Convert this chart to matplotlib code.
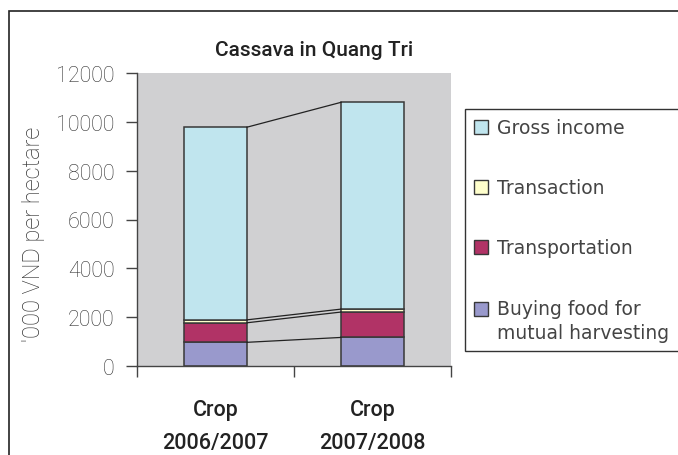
import matplotlib
matplotlib.use("Agg")
import matplotlib.pyplot as plt
import numpy as np
from matplotlib.patches import Rectangle, Patch
from matplotlib.legend_handler import HandlerPatch

# data ('000 VND per hectare)
crops = ["Crop\n2006/2007", "Crop\n2007/2008"]
buying_food = [970, 1170]
transportation = [800, 1040]
transaction = [120, 120]
gross_income = [7890, 8470]

series = [
    ("Buying food for\nmutual harvesting", buying_food, "#9999cc"),
    ("Transportation", transportation, "#b13366"),
    ("Transaction", transaction, "#ffffcc"),
    ("Gross income", gross_income, "#c0e5ee"),
]

plt.rcParams["font.family"] = ["DejaVu Sans"]
narrow = ["Roboto", "DejaVu Sans"]

fig = plt.figure(figsize=(6.78, 4.56), dpi=100)
ax = fig.add_axes([137 / 678, 1 - 367 / 456, 314 / 678, 293 / 456])
ax.set_facecolor("#d0d0d2")

x = np.arange(len(crops))
width = 0.4
bottom = np.zeros(len(crops))
for label, vals, color in series:
    vals = np.array(vals, dtype=float)
    ax.bar(x, vals, width, bottom=bottom, color=color, edgecolor="#383838",
           linewidth=1.1, label=label, zorder=2)
    bottom = bottom + vals
    # Excel style series line between the two stacks
    ax.plot([x[0] + width / 2, x[1] - width / 2], [bottom[0], bottom[1]],
            color="#222222", linewidth=0.9, zorder=3)

ax.set_xlim(-0.5, 1.5)
ax.set_ylim(0, 12000)
ax.set_yticks(np.arange(0, 12001, 2000))
ax.tick_params(axis="y", direction="out", length=8, width=1, color="#444444",
               labelsize=15.5, labelcolor="#333333", pad=8)
for t in ax.get_yticklabels():
    t.set_family(narrow)
    t.set_fontweight("light")

ax.set_xticks([-0.5, 0.5, 1.5])
ax.set_xticklabels([])
ax.tick_params(axis="x", which="major", direction="out", length=8, width=1, color="#444444")
ax.set_xticks(x, minor=True)
ax.set_xticklabels(crops, minor=True, fontsize=15.5, family=narrow, fontweight="medium",
                   color="#222222", linespacing=1.75)
ax.tick_params(axis="x", which="minor", length=0, pad=24)

for s in ["top", "right"]:
    ax.spines[s].set_visible(False)
for s in ["left", "bottom"]:
    ax.spines[s].set_color("#444444")
    ax.spines[s].set_linewidth(1.0)

fig.text(314 / 678, 1 - 50 / 456, "Cassava in Quang Tri", ha="center", va="center",
         fontsize=15, family=narrow, fontweight="medium", color="#222222")
fig.text(34 / 678, 1 - 234 / 456, "'000 VND per hectare", rotation=90, ha="center",
         va="center", fontsize=17, family=narrow, fontweight="light", color="#333333")


def top_line_box(legend, orig_handle, xdescent, ydescent, width, height, fontsize):
    # keep the square level with the first line of a two-line label
    return Rectangle((-xdescent, -ydescent + 9), width, height)


proxies = [Patch(facecolor=c, edgecolor="#383838", linewidth=1.0) for _, _, c in series]
handler_map = {proxies[0]: HandlerPatch(patch_func=top_line_box)}

leg = fig.legend(proxies[::-1], [s[0] for s in series][::-1], handler_map=handler_map,
                 loc="upper left", bbox_to_anchor=(465 / 678, 1 - 348 / 456, 0.32, 238 / 456),
                 mode="expand", fontsize=13.5, labelspacing=2.19, handlelength=0.75,
                 handleheight=0.75, handletextpad=0.45, borderpad=0.5, borderaxespad=0,
                 frameon=True, fancybox=False, edgecolor="#333333", framealpha=1)
leg.get_frame().set_linewidth(1.0)
for t in leg.get_texts():
    t.set_color("#444444")
    t.set_linespacing(1.35)

# outer chart border (runs off the right and bottom of the picture)
fig.patches.append(Rectangle((9 / 678, -0.1), 1.2, 1 - 12 / 456 + 0.1,
                             transform=fig.transFigure, fill=False,
                             edgecolor="#222222", linewidth=1.2))

fig.savefig("out.png", dpi=100)
